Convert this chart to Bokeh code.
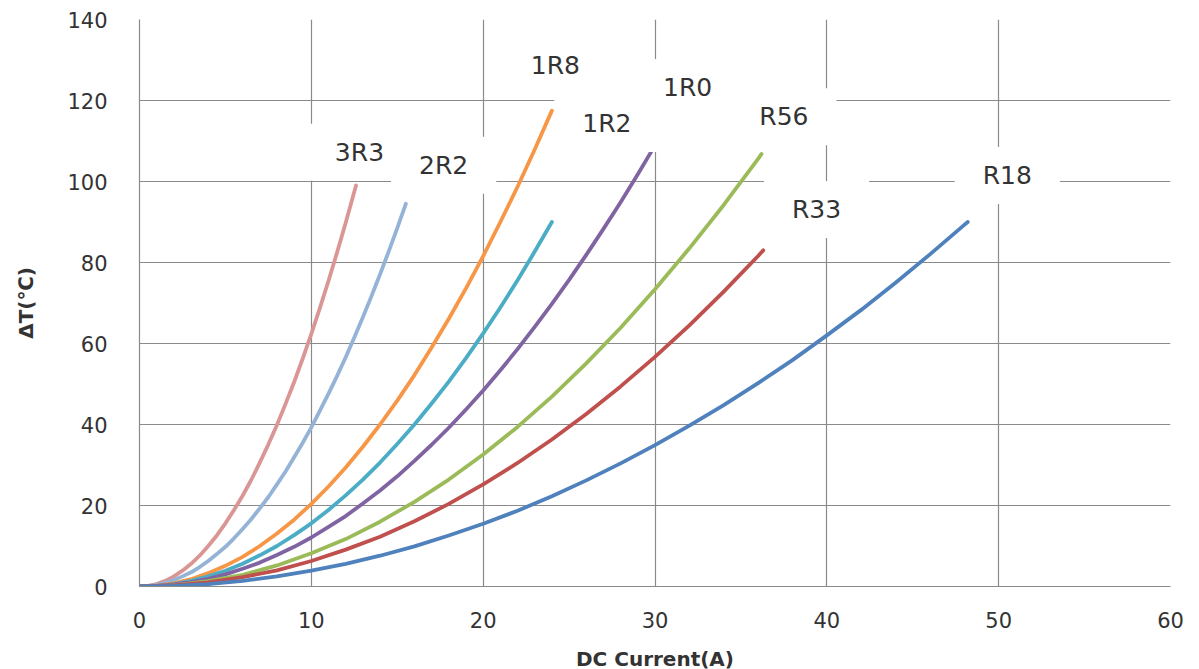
from bokeh.plotting import figure
from bokeh.models import Range1d, FixedTicker, Label
from bokeh.embed import file_html
from bokeh.resources import INLINE

# ---- data (DC current A, temperature rise degC) ----
x_3R3 = [0, 0.5, 1, 1.5, 2, 2.5, 3, 3.5, 4, 4.5, 5, 5.5, 6, 6.5, 7, 7.5, 8, 8.5, 9, 9.5, 10, 10.5, 11, 11.5, 12, 12.6]
y_3R3 = [0, 0.16, 0.6, 1.4, 2.5, 3.9, 5.6, 7.6, 10.0, 12.6, 15.6, 18.9, 22.4, 26.3, 30.6, 35.1, 39.9, 45.1, 50.5, 56.3, 62.4, 68.8, 75.5, 82.5, 89.8, 99.0]

x_2R2 = [0, 0.5, 1, 1.5, 2, 2.5, 3, 3.5, 4, 4.5, 5, 5.5, 6, 6.5, 7, 7.5, 8, 8.5, 9, 9.5, 10, 10.5, 11, 11.5, 12, 12.5, 13, 13.5, 14, 14.5, 15, 15.5]
y_2R2 = [0, 0.1, 0.4, 0.9, 1.6, 2.5, 3.5, 4.8, 6.3, 8.0, 9.8, 11.9, 14.2, 16.6, 19.3, 22.1, 25.2, 28.4, 31.9, 35.5, 39.3, 43.4, 47.6, 52.0, 56.6, 61.5, 66.5, 71.7, 77.1, 82.7, 88.5, 94.5]

x_1R8 = [0, 1, 2, 3, 4, 5, 6, 7, 8, 9, 10, 11, 12, 13, 14, 15, 16, 17, 18, 19, 20, 21, 22, 23, 24]
y_1R8 = [0, 0.2, 0.8, 1.8, 3.3, 5.1, 7.3, 10.0, 13.1, 16.5, 20.4, 24.7, 29.4, 34.5, 40.0, 45.9, 52.2, 59.0, 66.1, 73.6, 81.6, 90.0, 98.7, 107.9, 117.5]

x_1R2 = [0, 1, 2, 3, 4, 5, 6, 7, 8, 9, 10, 11, 12, 13, 14, 15, 16, 17, 18, 19, 20, 21, 22, 23, 24]
y_1R2 = [0, 0.16, 0.6, 1.4, 2.5, 3.9, 5.6, 7.7, 10.0, 12.7, 15.6, 18.9, 22.5, 26.4, 30.6, 35.2, 40.0, 45.2, 50.6, 56.4, 62.5, 68.9, 75.6, 82.7, 90.0]

x_1R0 = [0, 1, 2, 3, 4, 5, 6, 7, 8, 9, 10, 11, 12, 13, 14, 15, 16, 17, 18, 19, 20, 21, 22, 23, 24, 25, 26, 27, 28, 29, 29.8]
y_1R0 = [0, 0.12, 0.5, 1.1, 1.9, 3.0, 4.4, 5.9, 7.8, 9.8, 12.1, 14.7, 17.4, 20.5, 23.7, 27.2, 31.0, 35.0, 39.2, 43.7, 48.4, 53.4, 58.6, 64.1, 69.8, 75.7, 81.9, 88.3, 94.9, 101.8, 107.5]

x_R56 = [0, 2, 4, 6, 8, 10, 12, 14, 16, 18, 20, 22, 24, 26, 28, 30, 32, 34, 36, 36.2]
y_R56 = [0, 0.3, 1.3, 2.9, 5.2, 8.2, 11.7, 16.0, 20.9, 26.4, 32.6, 39.4, 46.9, 55.1, 63.9, 73.4, 83.5, 94.2, 105.6, 106.8]

x_R33 = [0, 2, 4, 6, 8, 10, 12, 14, 16, 18, 20, 22, 24, 26, 28, 30, 32, 34, 36, 36.3]
y_R33 = [0, 0.25, 1.0, 2.3, 4.0, 6.3, 9.1, 12.3, 16.1, 20.4, 25.2, 30.5, 36.3, 42.6, 49.4, 56.7, 64.5, 72.8, 81.6, 83.0]

x_R18 = [0, 2, 4, 6, 8, 10, 12, 14, 16, 18, 20, 22, 24, 26, 28, 30, 32, 34, 36, 38, 40, 42, 44, 46, 48, 48.2]
y_R18 = [0, 0.15, 0.6, 1.4, 2.5, 3.9, 5.6, 7.6, 9.9, 12.6, 15.5, 18.7, 22.3, 26.2, 30.4, 34.9, 39.7, 44.8, 50.2, 55.9, 62.0, 68.3, 75.0, 82.0, 89.3, 90.0]

series_names = ["3R3", "2R2", "1R8", "1R2", "1R0", "R56", "R33", "R18"]
series_x = [x_3R3, x_2R2, x_1R8, x_1R2, x_1R0, x_R56, x_R33, x_R18]
series_y = [y_3R3, y_2R2, y_1R8, y_1R2, y_1R0, y_R56, y_R33, y_R18]
series_colors = ["#D99694", "#95B3D7", "#F79646", "#4BACC6", "#8064A2", "#9BBB59", "#C0504D", "#4F81BD"]

x_ticks = [0, 10, 20, 30, 40, 50, 60]
y_ticks = [0, 20, 40, 60, 80, 100, 120, 140]

# label anchor points (data coordinates)
label_pos = {
    "3R3": (12.8, 107.2),
    "2R2": (17.7, 104.0),
    "1R8": (24.2, 128.6),
    "1R0": (31.9, 123.2),
    "1R2": (27.2, 114.3),
    "R56": (37.5, 116.0),
    "R33": (39.4, 93.1),
    "R18": (50.5, 101.5),
}

p = figure(frame_width=1031, frame_height=567, output_backend="svg", toolbar_location=None,
           x_range=Range1d(0, 60), y_range=Range1d(0, 140))
p.min_border_left = 139
p.min_border_right = 25
p.min_border_top = 19
p.min_border_bottom = 79
p.outline_line_color = None
p.background_fill_color = "white"

grid_col = "#8a8a8a"
p.xgrid.ticker = FixedTicker(ticks=x_ticks)
p.ygrid.ticker = FixedTicker(ticks=y_ticks)
for g in (p.xgrid, p.ygrid):
    g.grid_line_color = grid_col
    g.grid_line_width = 1.2

p.xaxis.ticker = FixedTicker(ticks=x_ticks)
p.yaxis.ticker = FixedTicker(ticks=y_ticks)
for ax in (p.xaxis, p.yaxis):
    ax.axis_line_color = grid_col
    ax.axis_line_width = 1.2
    ax.major_tick_line_color = None
    ax.minor_tick_line_color = None
    ax.major_label_text_font = "DejaVu Sans"
    ax.major_label_text_font_size = "21px"
    ax.major_label_text_color = "#333333"
    ax.axis_label_text_font = "DejaVu Sans"
    ax.axis_label_text_font_style = "bold"
    ax.axis_label_text_font_size = "20px"
    ax.axis_label_text_color = "#333333"

p.xaxis.major_label_standoff = 19
p.yaxis.major_label_standoff = 26
p.xaxis.axis_label = "DC Current(A)"
p.yaxis.axis_label = "ΔT(℃)"
p.xaxis.axis_label_standoff = 16
p.yaxis.axis_label_standoff = 26

for name, xs, ys, col in zip(series_names, series_x, series_y, series_colors):
    p.line(xs, ys, line_color=col, line_width=3.8, line_join="round", line_cap="round")

for name in series_names:
    lx, ly = label_pos[name]
    lab = Label(x=lx, y=ly, text=name, text_align="center", text_baseline="middle",
                text_font="DejaVu Sans", text_font_size="25px", text_color="#333333",
                background_fill_color="white", background_fill_alpha=1.0,
                padding=dict(left=28, right=28, top=14, bottom=14))
    p.add_layout(lab)

open("out.html", "w").write(file_html(p, INLINE))
